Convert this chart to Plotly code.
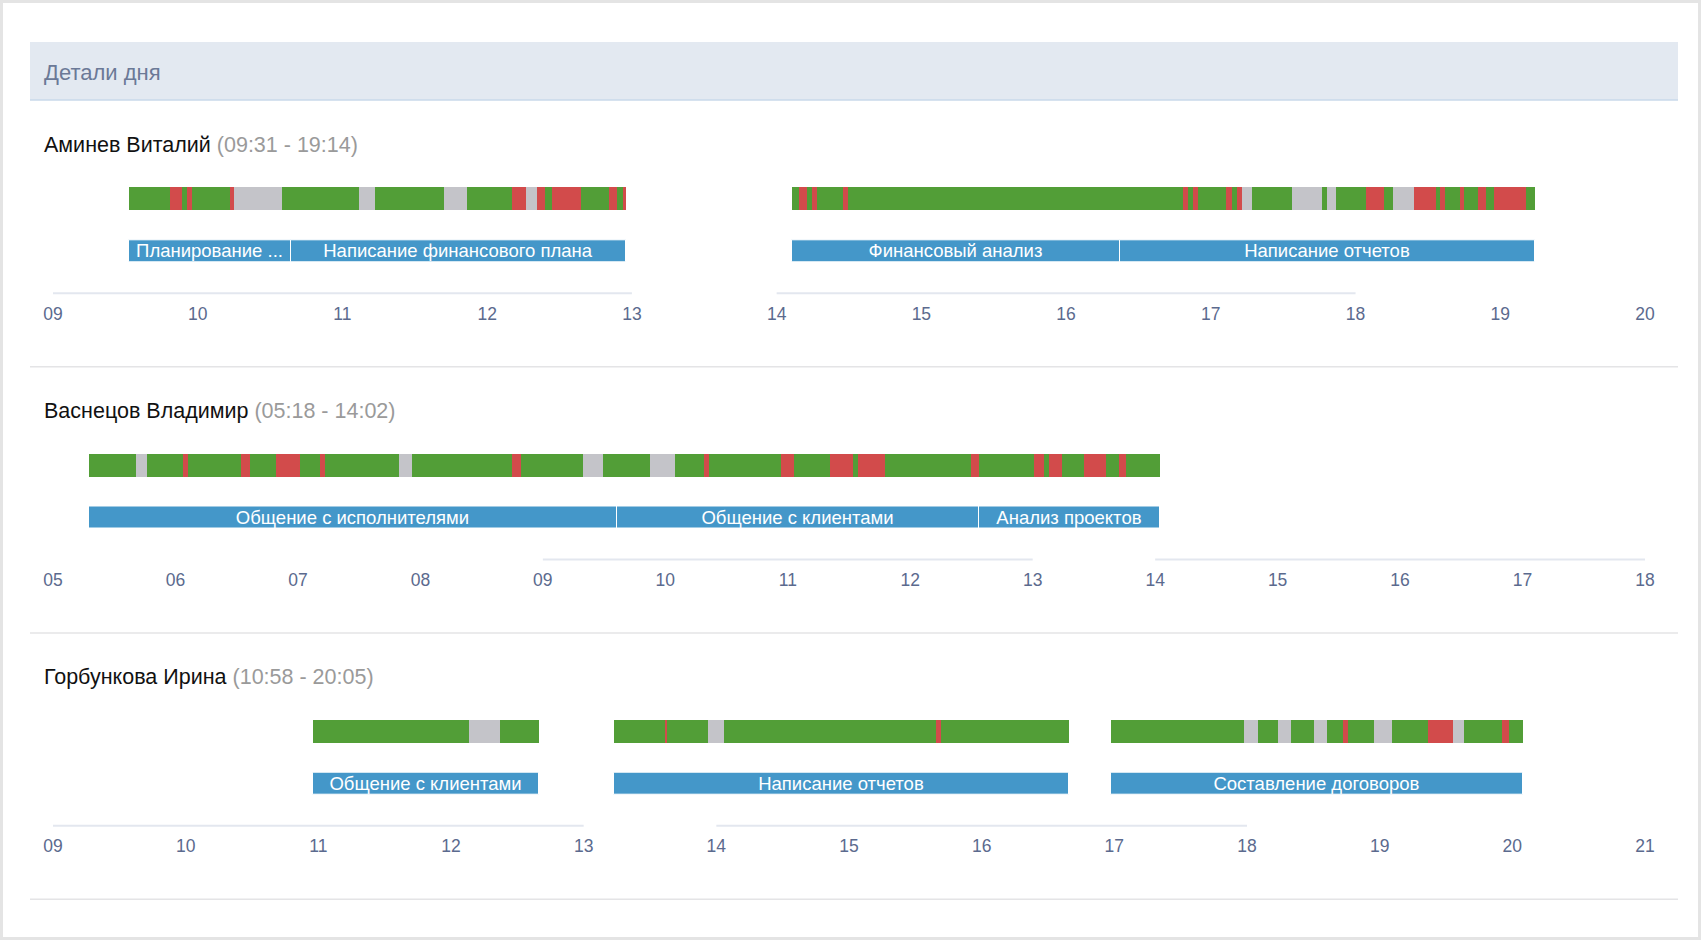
import plotly.graph_objects as go

# ---------------- data ----------------
TITLE = "Детали дня"

PEOPLE = ["Аминев Виталий", "Васнецов Владимир", "Горбункова Ирина"]
AXIS_HOURS = [(9, 20), (5, 18), (9, 21)]      # visible hour range per person
WORK_HOURS = [(9, 13), (14, 18)]              # working periods (axis line)

# activity segments: (start hour, end hour, state)
AMINEV_ACTIVITY = [
    (9.522, 9.806, "work"), (9.806, 9.892, "distracted"), (9.892, 9.929, "work"),
    (9.929, 9.957, "distracted"), (9.957, 10.220, "work"), (10.220, 10.250, "distracted"),
    (10.250, 10.584, "idle"), (10.584, 11.115, "work"), (11.115, 11.226, "idle"),
    (11.226, 11.704, "work"), (11.704, 11.859, "idle"), (11.859, 12.168, "work"),
    (12.168, 12.266, "distracted"), (12.266, 12.347, "idle"), (12.347, 12.402, "distracted"),
    (12.402, 12.446, "work"), (12.446, 12.649, "distracted"), (12.649, 12.841, "work"),
    (12.841, 12.899, "distracted"), (12.899, 12.936, "work"), (12.936, 12.962, "distracted"),
    (14.109, 14.156, "work"), (14.156, 14.213, "distracted"), (14.213, 14.245, "work"),
    (14.245, 14.280, "distracted"), (14.280, 14.460, "work"), (14.460, 14.494, "distracted"),
    (14.494, 16.811, "work"), (16.811, 16.842, "distracted"), (16.842, 16.879, "work"),
    (16.879, 16.911, "distracted"), (16.911, 17.104, "work"), (17.104, 17.148, "distracted"),
    (17.148, 17.182, "work"), (17.182, 17.217, "distracted"), (17.217, 17.284, "idle"),
    (17.284, 17.558, "work"), (17.558, 17.770, "idle"), (17.770, 17.805, "work"),
    (17.805, 17.862, "idle"), (17.862, 18.074, "work"), (18.074, 18.198, "distracted"),
    (18.198, 18.256, "work"), (18.256, 18.403, "idle"), (18.403, 18.553, "distracted"),
    (18.553, 18.583, "work"), (18.583, 18.618, "distracted"), (18.618, 18.724, "work"),
    (18.724, 18.751, "distracted"), (18.751, 18.846, "work"), (18.846, 18.898, "distracted"),
    (18.898, 18.956, "work"), (18.956, 19.175, "distracted"), (19.175, 19.237, "work"),
]
AMINEV_TASKS = [
    ("Планирование ...", 9.522, 10.642),
    ("Написание финансового плана", 10.642, 12.962),
    ("Финансовый анализ", 14.109, 16.372),
    ("Написание отчетов", 16.372, 19.237),
]

VASNETSOV_ACTIVITY = [
    (5.296, 5.675, "work"), (5.675, 5.765, "idle"), (5.765, 6.064, "work"),
    (6.064, 6.100, "distracted"), (6.100, 6.538, "work"), (6.538, 6.606, "distracted"),
    (6.606, 6.821, "work"), (6.821, 7.020, "distracted"), (7.020, 7.180, "work"),
    (7.180, 7.221, "distracted"), (7.221, 7.825, "work"), (7.825, 7.929, "idle"),
    (7.929, 8.746, "work"), (8.746, 8.822, "distracted"), (8.822, 9.331, "work"),
    (9.331, 9.489, "idle"), (9.489, 9.878, "work"), (9.878, 10.079, "idle"),
    (10.079, 10.316, "work"), (10.316, 10.357, "distracted"), (10.357, 10.947, "work"),
    (10.947, 11.048, "distracted"), (11.048, 11.345, "work"), (11.345, 11.533, "distracted"),
    (11.533, 11.574, "work"), (11.574, 11.797, "distracted"), (11.797, 12.494, "work"),
    (12.494, 12.562, "distracted"), (12.562, 13.014, "work"), (13.014, 13.090, "distracted"),
    (13.090, 13.136, "work"), (13.136, 13.237, "distracted"), (13.237, 13.417, "work"),
    (13.417, 13.599, "distracted"), (13.599, 13.708, "work"), (13.708, 13.762, "distracted"),
    (13.762, 14.036, "work"),
]
VASNETSOV_TASKS = [
    ("Общение с исполнителями", 5.296, 9.603),
    ("Общение с клиентами", 9.603, 12.565),
    ("Анализ проектов", 12.565, 14.036),
]

GORBUNKOVA_ACTIVITY = [
    (10.963, 12.134, "work"), (12.134, 12.366, "idle"), (12.366, 12.662, "work"),
    (13.231, 13.614, "work"), (13.614, 13.631, "distracted"), (13.631, 13.935, "work"),
    (13.935, 14.060, "idle"), (14.060, 15.653, "work"), (15.653, 15.691, "distracted"),
    (15.691, 16.658, "work"),
    (16.975, 17.975, "work"), (17.975, 18.083, "idle"), (18.083, 18.233, "work"),
    (18.233, 18.331, "idle"), (18.331, 18.502, "work"), (18.502, 18.603, "idle"),
    (18.603, 18.726, "work"), (18.726, 18.758, "distracted"), (18.758, 18.959, "work"),
    (18.959, 19.095, "idle"), (19.095, 19.367, "work"), (19.367, 19.550, "distracted"),
    (19.550, 19.636, "idle"), (19.636, 19.920, "work"), (19.920, 19.973, "distracted"),
    (19.973, 20.080, "work"),
]
GORBUNKOVA_TASKS = [
    ("Общение с клиентами", 10.963, 12.662),
    ("Написание отчетов", 13.231, 16.658),
    ("Составление договоров", 16.975, 20.080),
]

ACTIVITIES = [AMINEV_ACTIVITY, VASNETSOV_ACTIVITY, GORBUNKOVA_ACTIVITY]
TASKS = [AMINEV_TASKS, VASNETSOV_TASKS, GORBUNKOVA_TASKS]

# ---------------- style ----------------
W, H = 1701, 940
FONT = "Liberation Sans, Arial, Helvetica, sans-serif"
STATE_COLORS = {"work": "#529e37", "distracted": "#d24b4b", "idle": "#c4c4c9"}
TASK_COLOR = "#4497c9"
TICK_COLOR = "#5b6a8e"
X_LEFT, X_RIGHT = 53, 1645
PITCH = 266.2
AXIS_PX0 = 293.3
NAME_PX0 = 145
Y_SPAN = 120
ACT_Y, ACT_W = 94.3, 23.4
TASK_Y, TASK_W = 41.95, 22.7


def fx(px):
    return px / W


def fy(px):
    return 1 - px / H


def fmt(h):
    m = int(round(h * 60))
    return f"{m // 60:02d}:{m % 60:02d}"


fig = go.Figure()
shapes = []
annotations = []
layout_axes = {}

for s, (name, acts, tasks, (h0, h1)) in enumerate(zip(PEOPLE, ACTIVITIES, TASKS, AXIS_HOURS)):
    suffix = "" if s == 0 else str(s + 1)
    xa, ya = "x" + suffix, "y" + suffix
    axis_px = AXIS_PX0 + s * PITCH

    layout_axes["xaxis" + suffix] = dict(
        domain=[fx(X_LEFT), fx(X_RIGHT)], range=[h0, h1], anchor=ya,
        tickvals=list(range(h0, h1 + 1)),
        ticktext=[f"{h:02d}" for h in range(h0, h1 + 1)],
        showgrid=False, zeroline=False, showline=False, ticks="",
        ticklabelstandoff=8, automargin=False,
        tickfont=dict(size=17.5, color=TICK_COLOR, family=FONT),
        fixedrange=True,
    )
    layout_axes["yaxis" + suffix] = dict(
        domain=[fy(axis_px), fy(axis_px - Y_SPAN)], range=[0, Y_SPAN], anchor=xa,
        visible=False, fixedrange=True, automargin=False,
    )

    # activity segments, one trace per state
    for state, color in STATE_COLORS.items():
        seg = [a for a in acts if a[2] == state]
        if not seg:
            continue
        fig.add_trace(go.Bar(
            orientation="h", base=[a[0] for a in seg], x=[a[1] - a[0] for a in seg],
            y=[ACT_Y] * len(seg), width=[ACT_W] * len(seg),
            marker=dict(color=color, line=dict(width=0)),
            xaxis=xa, yaxis=ya, showlegend=False, hoverinfo="skip",
        ))

    # task bars
    fig.add_trace(go.Bar(
        orientation="h", base=[t[1] for t in tasks], x=[t[2] - t[1] for t in tasks],
        y=[TASK_Y] * len(tasks), width=[TASK_W] * len(tasks),
        text=[t[0] for t in tasks], textposition="inside", insidetextanchor="middle",
        constraintext="none",
        textfont=dict(color="white", size=18.5, family=FONT),
        marker=dict(color=TASK_COLOR, line=dict(color="white", width=1)),
        xaxis=xa, yaxis=ya, showlegend=False, hoverinfo="skip",
    ))

    # working-hours axis line
    for a, b in WORK_HOURS:
        shapes.append(dict(type="line", xref=xa, yref=ya + " domain", x0=a, x1=b, y0=0, y1=0,
                           line=dict(color="#e3e7ef", width=2), layer="below"))

    # separator under section
    sep_px = axis_px + 73.5
    shapes.append(dict(type="line", xref="paper", yref="paper", x0=fx(30), x1=fx(1678),
                       y0=fy(sep_px), y1=fy(sep_px), line=dict(color="#e4e4e6", width=1.5)))

    # name + time range
    t_start = min(a[0] for a in acts)
    t_end = max(a[1] for a in acts)
    annotations.append(dict(
        xref="paper", yref="paper", x=fx(42), y=fy(NAME_PX0 + s * PITCH),
        xanchor="left", yanchor="middle", showarrow=False,
        text=f"{name} <span style='color:#9a9a9a'>({fmt(t_start)} - {fmt(t_end)})</span>",
        font=dict(size=21.5, color="#111111", family=FONT),
    ))

# header band
shapes.insert(0, dict(type="rect", xref="paper", yref="paper", x0=fx(30), x1=fx(1678),
                      y0=fy(100), y1=fy(42), fillcolor="#e3e9f1", line=dict(width=0), layer="below"))
shapes.append(dict(type="line", xref="paper", yref="paper", x0=fx(30), x1=fx(1678),
                   y0=fy(100), y1=fy(100), line=dict(color="#c9d8ea", width=1.5)))
# outer frame
shapes.append(dict(type="rect", xref="paper", yref="paper", x0=fx(1.5), x1=fx(W - 1.5),
                   y0=fy(H - 1.5), y1=fy(1.5), line=dict(color="#e4e4e4", width=3)))

annotations.append(dict(
    xref="paper", yref="paper", x=fx(42), y=fy(72), xanchor="left", yanchor="middle",
    showarrow=False, text=TITLE, font=dict(size=22, color="#6b7997", family=FONT),
))

fig.update_layout(
    width=W, height=H, autosize=False,
    margin=dict(l=0, r=0, t=0, b=0, pad=0, autoexpand=False),
    paper_bgcolor="white", plot_bgcolor="rgba(0,0,0,0)",
    barmode="overlay", bargap=0,
    shapes=shapes, annotations=annotations,
    font=dict(family=FONT),
    **layout_axes,
)

fig.write_html("out.html", config={"displayModeBar": False})
